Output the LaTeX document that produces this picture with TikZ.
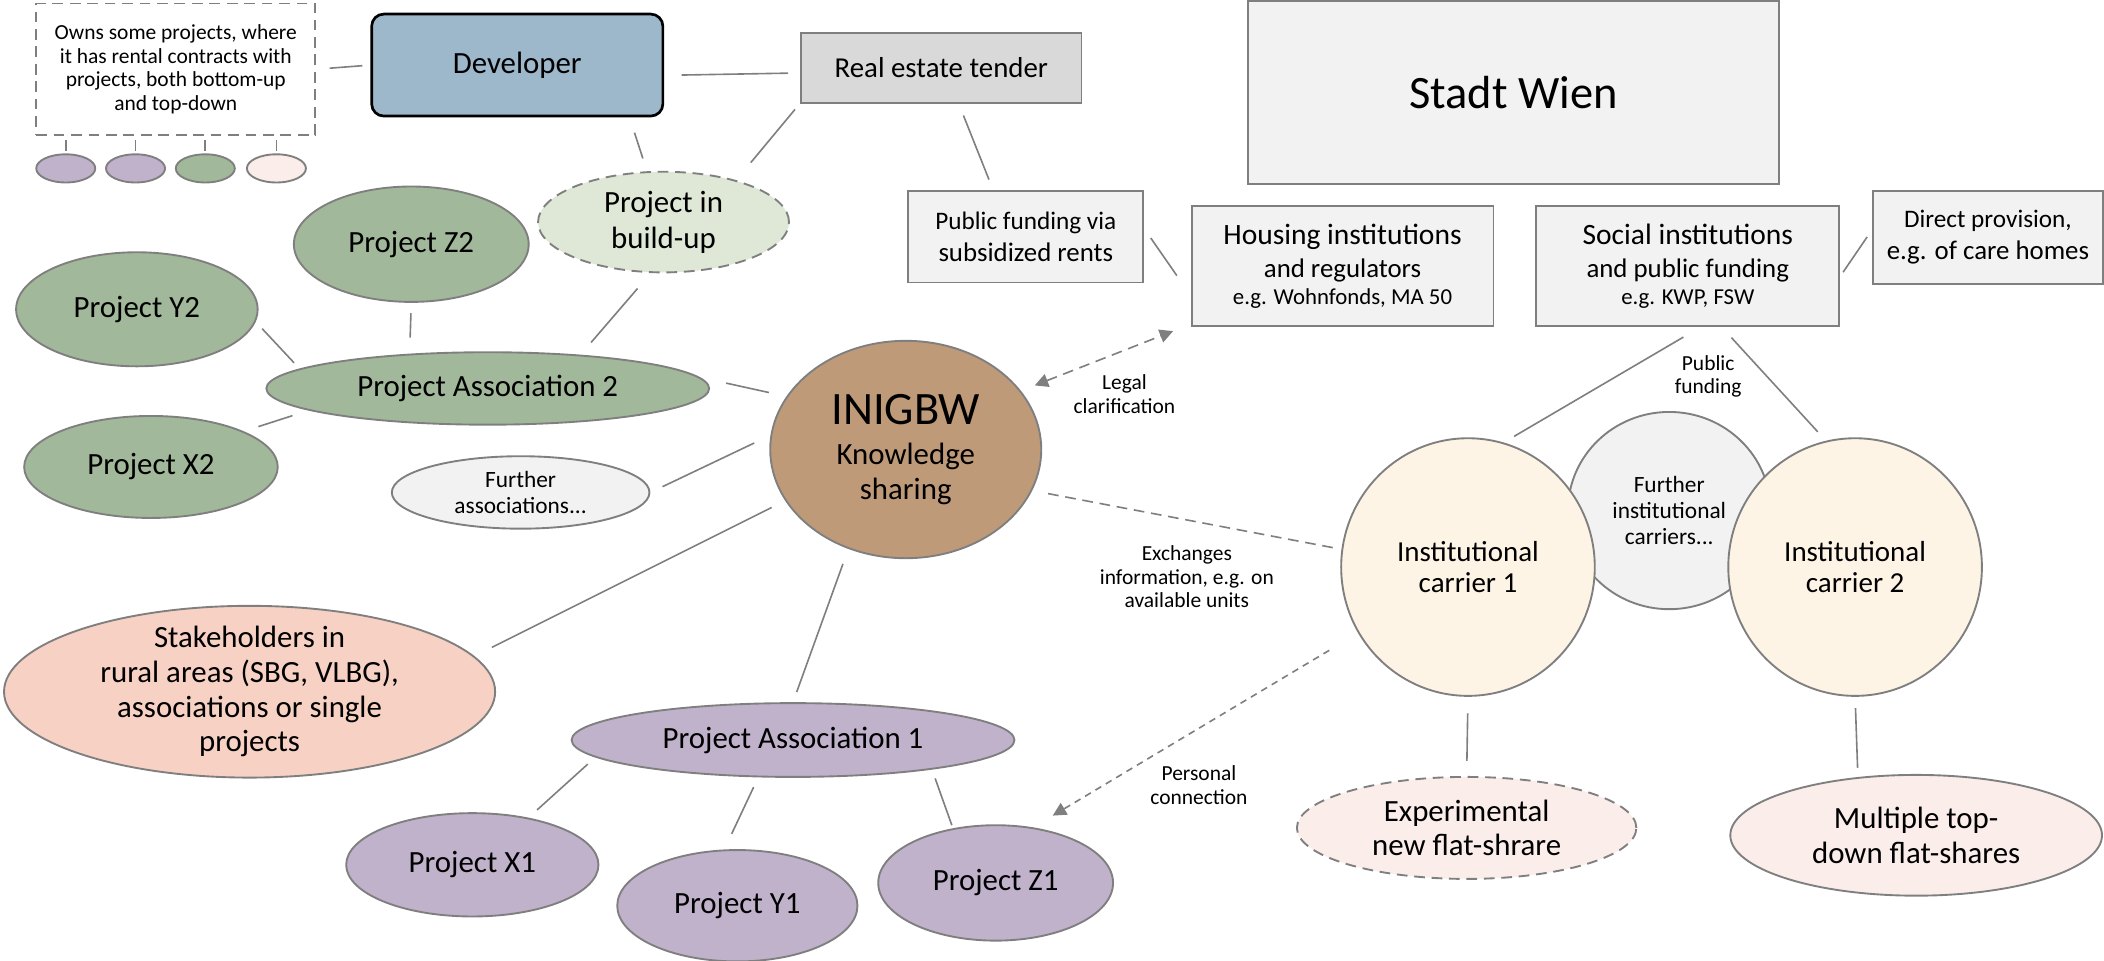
\documentclass[tikz,border=0pt]{standalone}
\usepackage{fontspec}
\setmainfont{Carlito}
\usetikzlibrary{shapes.geometric, arrows.meta}
\definecolor{lineGrey}{RGB}{127,127,127}
\definecolor{boxGrey}{RGB}{242,242,242}
\definecolor{tenderGrey}{RGB}{217,217,217}
\definecolor{devBlue}{RGB}{157,183,203}
\definecolor{projGreen}{RGB}{162,184,154}
\definecolor{buildGreen}{RGB}{223,232,214}
\definecolor{projPurple}{RGB}{192,178,203}
\definecolor{inigbwBrown}{RGB}{190,154,121}
\definecolor{stakeRose}{RGB}{247,210,196}
\definecolor{carrierCream}{RGB}{254,244,230}
\definecolor{flatPink}{RGB}{251,238,234}
\newcommand{\fontTitle}{\fontsize{17.3}{20}\selectfont}
\newcommand{\fontMain}{\fontsize{11.5}{12.9}\selectfont}
\newcommand{\fontMid}{\fontsize{11}{13.4}\selectfont}
\newcommand{\fontTender}{\fontsize{10.75}{13}\selectfont}
\newcommand{\fontBox}{\fontsize{9.4}{11}\selectfont}
\newcommand{\fontCarrier}{\fontsize{10.8}{11.4}\selectfont}
\newcommand{\fontFurther}{\fontsize{8.7}{9.7}\selectfont}
\newcommand{\fontEg}{\fontsize{8.5}{10}\selectfont}
\newcommand{\fontLabel}{\fontsize{8}{8.8}\selectfont}
\tikzstyle{canvas} = [x=0.5pt, y=-0.5pt]
\tikzstyle{shapeLine} = [draw=lineGrey, line width=0.7pt, inner sep=0pt, align=center]
\tikzstyle{boxStyle} = [shapeLine, rectangle, fill=boxGrey]
\tikzstyle{projectStyle} = [shapeLine, ellipse, font=\fontMain]
\tikzstyle{dashBorder} = [dash pattern=on 4pt off 2.5pt]
\tikzstyle{linkLine} = [color=lineGrey, line width=0.6pt]
\tikzstyle{dashLink} = [linkLine, dash pattern=on 4pt off 2.5pt]
\tikzstyle{linkText} = [align=center, font=\fontLabel, inner sep=0pt]
\newcommand{\projectNode}[6]{\node [projectStyle, fill=#2, minimum width=#3pt, minimum height=#4pt] (#1) at #5 {#6};}
\newcommand{\boxNode}[6]{\node [boxStyle, fill=#2, minimum width=#3pt, minimum height=#4pt] (#1) at #5 {#6};}
\newcommand{\drawLink}[4]{\draw [linkLine, shorten <=#3pt, shorten >=#4pt] (#1) -- (#2);}

\begin{document}
\begin{tikzpicture}[canvas]
    \useasboundingbox (0,0) rectangle (1568,716);
    % developer corner
    \node [shapeLine, fill=white, dashBorder, minimum width=104pt, minimum height=49pt, font=\fontLabel] (note) at (131,51.6) {Owns some projects, where\\it has rental contracts with\\projects, both bottom-up\\and top-down};
    \foreach \dotName/\dotX/\dotColor in {dotA/49/projPurple, dotB/101/projPurple, dotC/153/projGreen, dotD/206/flatPink} {
      \node [shapeLine, ellipse, fill=\dotColor, minimum width=22pt, minimum height=10.5pt] (\dotName) at (\dotX,125.5) {};
      \draw [dashLink, shorten <=1pt] (\dotName.north) -- (note.south -| \dotName.north);
    }
    \node [shapeLine, draw=black, line width=1pt, rounded corners=4.5pt, fill=devBlue, minimum width=108.5pt, minimum height=38pt, font=\fontMain] (dev) at (385.5,48.5) {Developer};
    \node [boxStyle, fill=tenderGrey, minimum width=104.5pt, minimum height=26.3pt, font=\fontTender] (tender) at (701.5,50.7) {Real estate tender};
    \node [projectStyle, fill=buildGreen, dashBorder, minimum width=93.5pt, minimum height=37.5pt] (buildup) at (494.5,165.5) {Project in\\[0.5pt]build-up};
    % city side
    \node [boxStyle, minimum width=198pt, minimum height=68.1pt, font=\fontTitle] (stadt) at (1128,68.9) {Stadt Wien};
    \boxNode{pubfund}{boxGrey}{87.5}{34}{(764.5,176.5)}{\fontBox Public funding via\\subsidized rents}
    \boxNode{housing}{boxGrey}{112.5}{44.75}{(1000.5,198.2)}{\fontMid Housing institutions\\[0.5pt]and regulators\\[-2pt]{\fontEg e.g. Wohnfonds, MA 50}}
    \boxNode{social}{boxGrey}{112.8}{44.75}{(1257.8,198.2)}{\fontMid Social institutions\\[0.5pt]and public funding\\[-2pt]{\fontEg e.g. KWP, FSW}}
    \boxNode{direct}{boxGrey}{85.5}{34.65}{(1481.5,177)}{\fontBox Direct provision,\\e.g. of care homes}
    % association 2
    \projectNode{z2}{projGreen}{87.5}{43}{(306.5,182)}{Project Z2}
    \projectNode{y2}{projGreen}{90}{42.5}{(102,230.5)}{Project Y2}
    \projectNode{x2}{projGreen}{94.5}{38}{(112.5,348)}{Project X2}
    \projectNode{pa2}{projGreen}{165}{27}{(363.5,289.5)}{Project Association 2}
    \node [projectStyle, fill=boxGrey, minimum width=96pt, minimum height=27pt, font=\fontFurther] (further) at (388,367) {Further\\associations...};
    \projectNode{inigbw}{inigbwBrown}{101}{81}{(675,335)}{{\fontTitle INIGBW}\\[2pt]Knowledge\\sharing}
    \node [projectStyle, fill=stakeRose, minimum width=183pt, minimum height=64pt, inner ysep=-2.5pt] (stake) at (186,515.5) {Stakeholders in\\rural areas (SBG, VLBG),\\associations or single\\projects};
    % association 1
    \projectNode{pa1}{projPurple}{165}{27.5}{(591,551.5)}{Project Association 1}
    \projectNode{x1}{projPurple}{94}{38.5}{(352,644.5)}{Project X1}
    \projectNode{y1}{projPurple}{89.5}{41.5}{(549.5,675)}{Project Y1}
    \projectNode{z1}{projPurple}{87.5}{43}{(742,658)}{Project Z1}
    % carriers
    \node [projectStyle, fill=boxGrey, minimum width=75.5pt, minimum height=73.5pt, font=\fontFurther] (furtherIC) at (1244,380.5) {Further\\institutional\\carriers...};
    \node [projectStyle, fill=carrierCream, minimum width=94.5pt, minimum height=96pt, font=\fontCarrier] (ic1) at (1094,422.6) {Institutional\\carrier 1};
    \node [projectStyle, fill=carrierCream, minimum width=94.5pt, minimum height=96pt, font=\fontCarrier] (ic2) at (1382.5,422.6) {Institutional\\carrier 2};
    \node [projectStyle, fill=flatPink, dashBorder, minimum width=126.5pt, minimum height=38pt] (exper) at (1093,617) {Experimental\\new flat-shrare};
    \projectNode{multi}{flatPink}{138.5}{45}{(1428,622.5)}{Multiple top-\\down flat-shares}
    % connectors
    \drawLink{note.east}{dev.west}{5}{3}
    \drawLink{dev.-4}{tender.182}{6.5}{4.5}
    \drawLink{dev.-25}{buildup.108}{6}{5}
    \drawLink{tender.194}{buildup.30}{3}{8.5}
    \drawLink{tender.-64}{pubfund.125}{4.5}{4.3}
    \drawLink{pubfund.4}{housing.191}{4.3}{9}
    \drawLink{social.-4}{direct.176}{2}{3.4}
    \drawLink{buildup.-104}{pa2.20}{7.6}{6}
    \drawLink{z2.south}{pa2.156}{3.8}{6}
    \drawLink{y2.-6}{pa2.174}{3.5}{3}
    \drawLink{x2.21}{pa2.187}{5.7}{6.3}
    \drawLink{pa2.3}{inigbw.156}{10}{6.7}
    \drawLink{further.east}{inigbw.174}{5}{6.7}
    \drawLink{stake.9}{inigbw.203}{7.3}{5.6}
    \drawLink{inigbw.240}{pa1.north}{5.9}{4}
    \drawLink{pa1.185}{x1.40}{3.8}{4.3}
    \drawLink{pa1.-133}{y1.103}{4}{6.4}
    \drawLink{pa1.-12}{z1.128}{3.5}{1.2}
    \drawLink{social.-78}{ic1.74}{7.5}{4.5}
    \drawLink{social.-61}{ic2.103}{5.4}{4.5}
    \drawLink{ic1.south}{exper.north}{6.2}{5.6}
    \drawLink{ic2.south}{multi.135}{4.2}{3.4}
    \draw [dashLink, arrows={Triangle[length=5pt,width=5pt]-Triangle[length=5pt,width=5pt]}, shorten <=5.5pt, shorten >=7pt] (inigbw.27) -- (housing.201);
    \draw [dashLink, shorten <=6pt, shorten >=3.3pt] (inigbw.-18) -- (ic1.172);
    \draw [dashLink, dash pattern=on 2.5pt off 2pt, arrows={-Triangle[length=5pt,width=5pt]}, shorten <=12.5pt, shorten >=8.5pt] (ic1.211) -- (z1.56);
    % connector labels
    \node [linkText] (legalText) at (838,293.5) {Legal\\clarification};
    \node [linkText] (exchangeText) at (884.5,430) {Exchanges\\information, e.g. on\\available units};
    \node [linkText] (personalText) at (893.5,585) {Personal\\connection};
    \node [linkText] (fundingText) at (1273,280.5) {Public\\funding};
\end{tikzpicture}
\end{document}
